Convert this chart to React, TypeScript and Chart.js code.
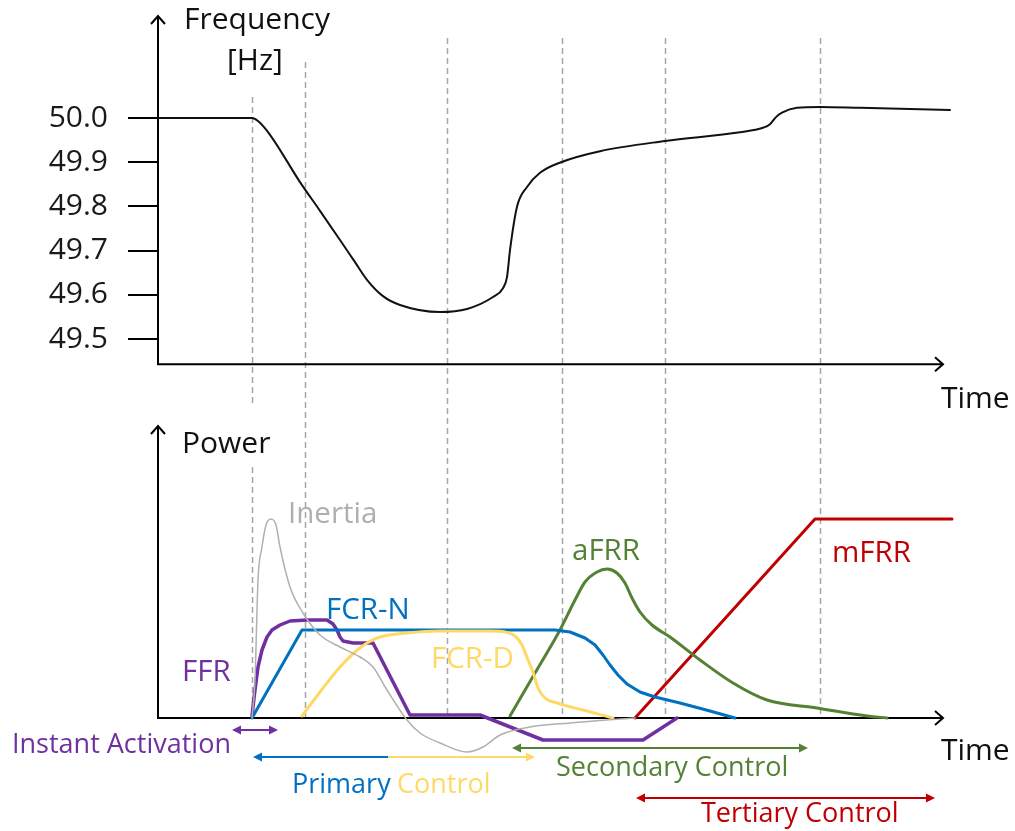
import React, { useEffect, useRef } from "react";
import { Chart, registerables } from "chart.js";

Chart.register(...registerables);

// ---------- data (time in arbitrary units, power in arbitrary units) ----------
const FREQ_TICKS = [49.5, 49.6, 49.7, 49.8, 49.9, 50.0];

const FREQ_T = [0, 94, 100, 112, 142, 162, 182, 197, 209, 225, 242, 282, 309, 335, 345, 349, 352, 359, 369, 382, 403, 442, 507, 582, 605, 612, 618, 624, 639, 662, 702, 792];
const FREQ_HZ = [50.0, 50.0, 49.993, 49.962, 49.855, 49.79, 49.724, 49.674, 49.634, 49.597, 49.577, 49.561, 49.568, 49.595, 49.615, 49.64, 49.701, 49.799, 49.844, 49.876, 49.9, 49.925, 49.948, 49.968, 49.978, 49.986, 50.002, 50.012, 50.023, 50.025, 50.023, 50.018];

const INERTIA_T = [94, 97, 100, 104, 108, 113, 118, 122, 132, 145, 162, 182, 202, 215, 229, 249, 262, 282, 309, 325, 342, 372, 412, 477];
const INERTIA_P = [0, 19, 69, 85.5, 96.5, 99.5, 96.5, 85.5, 65.5, 52.5, 41.5, 35.5, 30.5, 25.5, 14, -1, -7.5, -12.5, -17, -14.5, -8.5, -4.5, -2.5, 0];

const FFR_T = [94, 96, 98, 100, 104, 109, 114, 122, 132, 149, 169, 175, 179, 182, 185, 195, 215, 252, 322, 385, 485, 519];
const FFR_P = [1, 10, 18, 25.5, 34, 40.5, 44, 46.5, 48.5, 49, 49, 47, 44, 40.5, 38.5, 37.5, 37.5, 1.5, 1.5, -11, -11, 0];

const FCRN_T = [94, 144, 397, 412, 427, 437, 445, 452, 460, 469, 482, 497, 522, 552, 577];
const FCRN_P = [0, 44, 44, 43, 40, 36.5, 31.5, 26.5, 21.5, 17, 13, 10.5, 7.5, 3.5, 0];

const FCRD_T = [144, 162, 182, 197, 209, 222, 249, 282, 332, 347, 357, 364, 370, 375, 380, 387, 399, 425, 455];
const FCRD_P = [1, 13, 25.5, 33, 37.5, 40.5, 42.5, 43.5, 43.5, 43, 41, 36.5, 29, 23, 15, 10, 7.5, 4, 0];

const AFRR_T = [352, 377, 402, 417, 427, 439, 449, 459, 467, 474, 482, 494, 512, 542, 575, 609, 659, 709, 729];
const AFRR_P = [1, 22.5, 44, 59, 68, 73, 74.5, 72.5, 67.5, 60, 53, 46.5, 40.5, 29, 17.5, 9, 5, 1, 0];

const MFRR_T = [477, 657, 794];
const MFRR_P = [0, 99.5, 99.5];

// vertical phase markers (time units)
const PHASE_T = [94, 147, 289, 404, 507, 662];

// control spans (time units)
const INSTANT_SPAN = [74, 120];
const PRIMARY_SPAN = [95, 230, 377];
const SECONDARY_SPAN = [354, 650];
const TERTIARY_SPAN = [478, 777];

const C = {
  purple: "#7030A0",
  blue: "#0070C0",
  yellow: "#FFD966",
  green: "#548235",
  red: "#C00000",
  gray: "#A6A6A6",
  black: "#000000",
};

const FONT = '"Open Sans", "Noto Sans", sans-serif';

export default function App() {
  const ref = useRef<HTMLCanvasElement>(null);

  useEffect(() => {
    const pts = (t: number[], v: number[]) => t.map((x, i) => ({ x, y: v[i] }));
    const base = { pointRadius: 0, fill: false, clip: false as any, borderJoinStyle: "round" as const, borderCapStyle: "round" as const };

    const overlay = {
      id: "overlay",
      beforeDatasetsDraw(chart: any) {
        const ctx = chart.ctx as CanvasRenderingContext2D;
        const xs = chart.scales.x;
        const yF = chart.scales.yF;
        const yP = chart.scales.yP;
        const left = chart.chartArea.left;
        const xEnd = xs.getPixelForValue(785);
        const topAxisY = yF.getPixelForValue(49.443);
        const botAxisY = yP.getPixelForValue(0);
        const starts = [97, 62, 38, 38, 38, 38];
        ctx.save();
        // dashed phase lines
        ctx.strokeStyle = C.gray;
        ctx.lineWidth = 1.5;
        ctx.setLineDash([6, 4]);
        PHASE_T.forEach((t, i) => {
          const x = Math.round(xs.getPixelForValue(t)) + 0.5;
          ctx.beginPath();
          ctx.moveTo(x, starts[i]);
          ctx.lineTo(x, botAxisY);
          ctx.stroke();
        });
        ctx.setLineDash([]);
        // white mask behind "Power"
        ctx.fillStyle = "#fff";
        ctx.fillRect(176, 405, 98, 60);
        // axes
        ctx.strokeStyle = C.black;
        ctx.lineWidth = 2;
        const axis = (yTop: number, yAxis: number) => {
          ctx.beginPath();
          ctx.moveTo(left, yTop);
          ctx.lineTo(left, yAxis);
          ctx.lineTo(xEnd, yAxis);
          ctx.stroke();
          ctx.beginPath();
          ctx.moveTo(left - 7, yTop + 8);
          ctx.lineTo(left, yTop);
          ctx.lineTo(left + 7, yTop + 8);
          ctx.stroke();
          ctx.beginPath();
          ctx.moveTo(xEnd - 8, yAxis - 7);
          ctx.lineTo(xEnd, yAxis);
          ctx.lineTo(xEnd - 8, yAxis + 7);
          ctx.stroke();
        };
        axis(16, topAxisY);
        axis(426, botAxisY);
        ctx.restore();
      },
      afterDatasetsDraw(chart: any) {
        const ctx = chart.ctx as CanvasRenderingContext2D;
        const xs = chart.scales.x;
        const px = (t: number) => xs.getPixelForValue(t);
        ctx.save();
        const text = (s: string, x: number, y: number, color: string, size: number) => {
          ctx.font = `${size}px ${FONT}`;
          ctx.fillStyle = color;
          ctx.textAlign = "left";
          ctx.textBaseline = "alphabetic";
          ctx.fillText(s, x, y);
        };
        // axis titles
        text("Frequency", 184, 29, "#111", 30);
        text("[Hz]", 227, 70, "#111", 30);
        text("Time", 941, 408, "#111", 30);
        text("Power", 182, 453, "#111", 30);
        text("Time", 941, 760, "#111", 30);
        // curve labels
        text("Inertia", 288, 523, "#AFAFAF", 29.5);
        text("FCR-N", 326, 619, C.blue, 29.5);
        text("FFR", 182, 681, C.purple, 29.5);
        text("FCR-D", 431, 668, C.yellow, 29.5);
        text("aFRR", 572, 560, C.green, 29.5);
        text("mFRR", 832, 562, C.red, 29.5);
        // control labels
        text("Instant Activation", 12, 753, C.purple, 27);
        text("Primary", 292, 793, C.blue, 27);
        text("Control", 397, 793, C.yellow, 27);
        text("Secondary Control", 556, 776, C.green, 27);
        text("Tertiary Control", 701, 822, C.red, 27);

        // double-headed arrows
        const head = (x: number, y: number, dir: number, color: string) => {
          ctx.fillStyle = color;
          ctx.beginPath();
          ctx.moveTo(x, y);
          ctx.lineTo(x - dir * 9, y - 4.5);
          ctx.lineTo(x - dir * 9, y + 4.5);
          ctx.closePath();
          ctx.fill();
        };
        const seg = (x1: number, x2: number, y: number, color: string) => {
          ctx.strokeStyle = color;
          ctx.lineWidth = 2;
          ctx.beginPath();
          ctx.moveTo(x1, y);
          ctx.lineTo(x2, y);
          ctx.stroke();
        };
        const dbl = (t1: number, t2: number, y: number, c1: string, c2: string, tMid?: number) => {
          const a = px(t1), b = px(t2);
          if (tMid !== undefined) {
            const m = px(tMid);
            seg(a + 6, m, y, c1);
            seg(m, b - 6, y, c2);
          } else {
            seg(a + 6, b - 6, y, c1);
          }
          head(a, y, -1, c1);
          head(b, y, 1, c2);
        };
        dbl(INSTANT_SPAN[0], INSTANT_SPAN[1], 730, C.purple, C.purple);
        dbl(PRIMARY_SPAN[0], PRIMARY_SPAN[2], 757, C.blue, C.yellow, PRIMARY_SPAN[1]);
        dbl(SECONDARY_SPAN[0], SECONDARY_SPAN[1], 748, C.green, C.green);
        dbl(TERTIARY_SPAN[0], TERTIARY_SPAN[1], 798, C.red, C.red);
        ctx.restore();
      },
    };

    const chart = new Chart(ref.current as HTMLCanvasElement, {
      type: "line",
      data: {
        datasets: [
          { ...base, label: "Frequency", data: pts(FREQ_T, FREQ_HZ), yAxisID: "yF", borderColor: "#111", borderWidth: 2, cubicInterpolationMode: "monotone" },
          { ...base, label: "Inertia", data: pts(INERTIA_T, INERTIA_P), yAxisID: "yP", borderColor: "#B0B0B0", borderWidth: 1.5, cubicInterpolationMode: "monotone" },
          { ...base, label: "FCR-D", data: pts(FCRD_T, FCRD_P), yAxisID: "yP", borderColor: C.yellow, borderWidth: 3, cubicInterpolationMode: "monotone" },
          { ...base, label: "FCR-N", data: pts(FCRN_T, FCRN_P), yAxisID: "yP", borderColor: C.blue, borderWidth: 3, tension: 0 },
          { ...base, label: "aFRR", data: pts(AFRR_T, AFRR_P), yAxisID: "yP", borderColor: C.green, borderWidth: 3, cubicInterpolationMode: "monotone" },
          { ...base, label: "mFRR", data: pts(MFRR_T, MFRR_P), yAxisID: "yP", borderColor: C.red, borderWidth: 3, tension: 0 },
          { ...base, label: "FFR", data: pts(FFR_T, FFR_P), yAxisID: "yP", borderColor: C.purple, borderWidth: 3.5, tension: 0 },
        ],
      },
      options: {
        animation: false,
        responsive: false,
        devicePixelRatio: 1,
        layout: { padding: { left: 0, top: 15, right: 57, bottom: 71 } },
        plugins: { legend: { display: false }, tooltip: { enabled: false } },
        events: [],
        scales: {
          x: { type: "linear", min: 0, max: 800, display: false },
          yF: {
            type: "linear",
            position: "left",
            min: 48.54751,
            max: 50.23303,
            afterBuildTicks: (s: any) => {
              s.ticks = FREQ_TICKS.map((v) => ({ value: v }));
            },
            afterFit: (s: any) => {
              s.width = 158;
              s.paddingTop = 0;
              s.paddingBottom = 0;
            },
            border: { display: false },
            grid: { display: true, drawOnChartArea: false, drawTicks: true, tickLength: 30, color: "#000", lineWidth: 2 },
            ticks: {
              padding: 20,
              color: "#1a1a1a",
              font: { family: FONT, size: 30 },
              callback: (v: any) => Number(v).toFixed(1),
            },
          },
          yP: { type: "linear", position: "right", min: -21, max: 351.5, display: false },
        },
      },
      plugins: [overlay],
    } as any);
    return () => chart.destroy();
  }, []);

  return (
    <div style={{ position: "fixed", left: 0, top: 0, width: 1015, height: 831, background: "#fff" }}>
      <canvas ref={ref} width={1015} height={831} style={{ display: "block", width: 1015, height: 831 }} />
    </div>
  );
}
